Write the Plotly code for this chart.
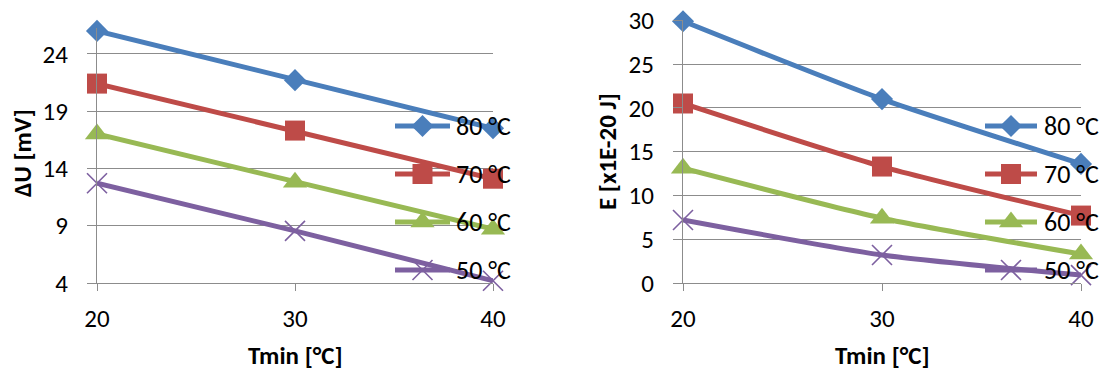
import plotly.graph_objects as go

W, H = 1099, 372

# ---- data ----
tmin = [20, 30, 40]
series_names = ["80 °C", "70 °C", "60 °C", "50 °C"]
du_80 = [26.0, 21.7, 17.5]
du_70 = [21.4, 17.3, 13.1]
du_60 = [17.0, 12.8, 8.7]
du_50 = [12.7, 8.55, 4.2]
e_80 = [29.9, 21.0, 13.6]
e_70 = [20.5, 13.3, 7.7]
e_60 = [13.1, 7.4, 3.3]
e_50 = [7.2, 3.2, 0.9]
du_ticks = [4, 9, 14, 19, 24]
e_ticks = [0, 5, 10, 15, 20, 25, 30]
x_ticks = [20, 30, 40]

colors = ["#4A7EBB", "#BE4B48", "#98B954", "#7D60A0"]
symbols = ["diamond", "square", "triangle-up", "x-thin-open"]
msizes = [17, 20, 21, 20]

FONT = "Carlito, Lato, sans-serif"
GRID = "#8C8C8C"

fig = go.Figure()

def px_x(p):
    return p / W

def px_y(p):
    return 1 - p / H

def marker(i):
    if symbols[i] == "x-thin-open":
        return dict(symbol=symbols[i], size=msizes[i], color=colors[i],
                    line=dict(color=colors[i], width=1.6))
    return dict(symbol=symbols[i], size=msizes[i], color=colors[i], line=dict(width=0))

left = [du_80, du_70, du_60, du_50]
right = [e_80, e_70, e_60, e_50]
for i, ys in enumerate(left):
    fig.add_trace(go.Scatter(x=tmin, y=ys, mode="lines+markers", xaxis="x", yaxis="y",
                             line=dict(color=colors[i], width=5), marker=marker(i),
                             showlegend=False, cliponaxis=False))
for i, ys in enumerate(right):
    fig.add_trace(go.Scatter(x=tmin, y=ys, mode="lines+markers", xaxis="x2", yaxis="y2",
                             line=dict(color=colors[i], width=5, shape="spline", smoothing=0.6),
                             marker=marker(i), showlegend=False, cliponaxis=False))

# ---- custom legends on a pixel overlay axis ----
leg_y = [126, 174, 222, 270]
legends = [(395, 450, 454), (985, 1037, 1042)]
annotations = []
for (x0, x1, xt) in legends:
    for i in range(4):
        fig.add_trace(go.Scatter(x=[x0, x1], y=[leg_y[i]] * 2, mode="lines",
                                 xaxis="x3", yaxis="y3",
                                 line=dict(color=colors[i], width=5),
                                 showlegend=False, hoverinfo="skip", cliponaxis=False))
        fig.add_trace(go.Scatter(x=[(x0 + x1) / 2], y=[leg_y[i]], mode="markers",
                                 xaxis="x3", yaxis="y3", marker=marker(i),
                                 showlegend=False, hoverinfo="skip", cliponaxis=False))
        annotations.append(dict(x=px_x(xt), y=px_y(leg_y[i]), xref="paper", yref="paper",
                                text=series_names[i], showarrow=False, xanchor="left",
                                yanchor="middle", font=dict(family=FONT, size=26, color="black")))

# axis titles
annotations += [
    dict(x=px_x(295), y=px_y(355), text="<b>Tmin [°C]</b>"),
    dict(x=px_x(882), y=px_y(355), text="<b>Tmin [°C]</b>"),
    dict(x=px_x(22), y=px_y(153), text="<b>ΔU [mV]</b>", textangle=-90),
    dict(x=px_x(607), y=px_y(152), text="<b>E [x1E-20 J]</b>", textangle=-90),
]
for a in annotations[-4:]:
    a.update(xref="paper", yref="paper", showarrow=False, xanchor="center", yanchor="middle",
             font=dict(family=FONT, size=25, color="black"))

tickfont = dict(family=FONT, size=25, color="black")
common_x = dict(range=[20, 40], tickvals=x_ticks, showgrid=False, zeroline=False,
                showline=True, linecolor=GRID, linewidth=1.3, ticks="outside", ticklen=7,
                tickcolor=GRID, tickwidth=1.3, tickfont=tickfont, ticklabelstandoff=6,
                automargin=False)
common_y = dict(showgrid=True, gridcolor=GRID, gridwidth=1.3, zeroline=False,
                showline=True, linecolor=GRID, linewidth=1.3, ticks="outside", ticklen=9,
                tickcolor=GRID, tickwidth=1.3, tickfont=tickfont, ticklabelstandoff=14,
                automargin=False)

fig.update_layout(
    template="none",
    width=W, height=H, autosize=False,
    margin=dict(l=0, r=0, t=0, b=0, pad=0, autoexpand=False),
    paper_bgcolor="white", plot_bgcolor="rgba(0,0,0,0)",
    showlegend=False,
    xaxis=dict(common_x, domain=[px_x(97), px_x(493)], anchor="y"),
    yaxis=dict(common_y, domain=[px_y(283), px_y(28)], range=[4, 4 + (283 - 28) / 11.46],
               tickvals=du_ticks, anchor="x"),
    xaxis2=dict(common_x, domain=[px_x(683), px_x(1081)], anchor="y2"),
    yaxis2=dict(common_y, domain=[px_y(283), px_y(20.3)], range=[0, 30],
                tickvals=e_ticks, anchor="x2"),
    xaxis3=dict(domain=[0, 1], range=[0, W], visible=False, anchor="y3", fixedrange=True,
                automargin=False),
    yaxis3=dict(domain=[0, 1], range=[H, 0], visible=False, anchor="x3", fixedrange=True,
                automargin=False),
    annotations=annotations,
)

fig.write_html(
    "out.html",
    config={"displayModeBar": False},
    post_script="document.body.style.margin='0';document.body.style.overflow='hidden';",
)
